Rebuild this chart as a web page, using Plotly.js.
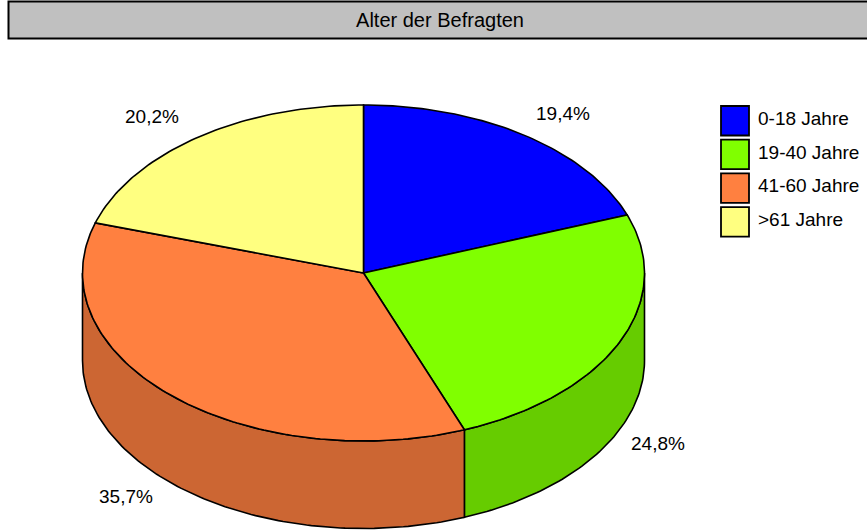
<!DOCTYPE html>
<html>
<head>
<meta charset="utf-8">
<script src="https://cdn.plot.ly/plotly-3.0.1.min.js"></script>
<style>html,body{margin:0;padding:0;background:#fff;}#chart{width:867px;height:532px;}</style>
</head>
<body>
<div id="chart"></div>
<script>
// ---- data ----
const categories = ['0-18 Jahre', '19-40 Jahre', '41-60 Jahre', '>61 Jahre'];
const values = [19.4, 24.8, 35.7, 20.2];
const labels = ['19,4%', '24,8%', '35,7%', '20,2%'];
const topColors = ['#0000ff', '#80ff00', '#ff8040', '#ffff80'];
const sideColors = ['#0000cc', '#66cc00', '#cc6633', '#cccc66'];
const chartTitle = 'Alter der Befragten';

// ---- geometry (pixel space via axes) ----
const W = 867, H = 532;
const cx = 363.5, cy = 273, rx = 281, ry = 168, depth = 87.5;
const FONT = 'Liberation Sans, Arial, Helvetica, sans-serif';

const total = values.reduce((a, b) => a + b, 0);
function pt(tDeg, dy) {
  const t = tDeg * Math.PI / 180;
  return [cx + rx * Math.sin(t), cy - ry * Math.cos(t) + (dy || 0)];
}
function arc(a, b, dy) {
  const xs = [], ys = [];
  const n = Math.max(2, Math.ceil(Math.abs(b - a)));
  for (let i = 0; i <= n; i++) {
    const p = pt(a + (b - a) * i / n, dy);
    xs.push(p[0]); ys.push(p[1]);
  }
  return [xs, ys];
}

const traces = [];
const sideTraces = [];
const annotations = [];
let start = 0;
values.forEach((v, i) => {
  const a = start, b = start + v / total * 360;
  start = b;
  // side wall (front visible part: 90..270 deg)
  const sa = Math.max(a, 90), sb = Math.min(b, 270);
  if (sb > sa) {
    const top = arc(sa, sb, 0);
    const bot = arc(sb, sa, depth);
    sideTraces.push({
      type: 'scatter', mode: 'lines', hoverinfo: 'skip', showlegend: false,
      x: top[0].concat(bot[0]).concat([top[0][0]]),
      y: top[1].concat(bot[1]).concat([top[1][0]]),
      fill: 'toself', fillcolor: sideColors[i],
      line: {color: '#000', width: 1.6}
    });
  }
  // top slice
  const ar = arc(a, b, 0);
  traces.push({
    type: 'scatter', mode: 'lines', name: categories[i], showlegend: false,
    x: [cx].concat(ar[0]).concat([cx]),
    y: [cy].concat(ar[1]).concat([cy]),
    fill: 'toself', fillcolor: topColors[i],
    line: {color: '#000', width: 1.6}
  });
  // label
  const m = (a + b) / 2;
  const mr = m * Math.PI / 180;
  const lower = Math.cos(mr) < 0;
  const right = Math.sin(mr) >= 0;
  const e = pt(m, lower ? depth : 0);
  annotations.push({
    x: e[0], y: e[1], xref: 'x', yref: 'y', text: labels[i], showarrow: false,
    xanchor: right ? 'left' : 'right', yanchor: lower ? 'top' : 'bottom',
    xshift: right ? 10 : -16, yshift: lower ? -1 : 9,
    font: {family: FONT, size: 19, color: '#000'}
  });
});

// legend (boxes + text)
const shapes = [{
  type: 'rect', xref: 'x', yref: 'y', x0: 8.5, x1: 875, y0: 1.5, y1: 38.5,
  fillcolor: '#c0c0c0', line: {color: '#000', width: 2}, layer: 'below'
}];
categories.forEach((c, i) => {
  const y0 = 106 + i * 33.7;
  shapes.push({
    type: 'rect', xref: 'x', yref: 'y', x0: 721, x1: 749, y0: y0, y1: y0 + 29.5,
    fillcolor: topColors[i], line: {color: '#000', width: 1.8}
  });
  annotations.push({
    x: 756, y: y0 + 12.5, xref: 'x', yref: 'y', text: c, showarrow: false,
    xanchor: 'left', yanchor: 'middle',
    font: {family: FONT, size: 19, color: '#000'}
  });
});

const layout = {
  width: W, height: H,
  margin: {l: 0, r: 0, t: 0, b: 0, pad: 0},
  paper_bgcolor: '#fff', plot_bgcolor: '#fff',
  showlegend: false,
  title: {
    text: chartTitle, x: 440 / W, xref: 'paper', xanchor: 'center',
    y: 1 - 20 / H, yref: 'paper', yanchor: 'middle',
    font: {family: FONT, size: 20, color: '#000'}
  },
  xaxis: {range: [0, W], visible: false, fixedrange: true},
  yaxis: {range: [H, 0], visible: false, fixedrange: true},
  shapes: shapes,
  annotations: annotations
};

Plotly.newPlot('chart', sideTraces.concat(traces), layout, {displayModeBar: false, staticPlot: true});
</script>
</body>
</html>
